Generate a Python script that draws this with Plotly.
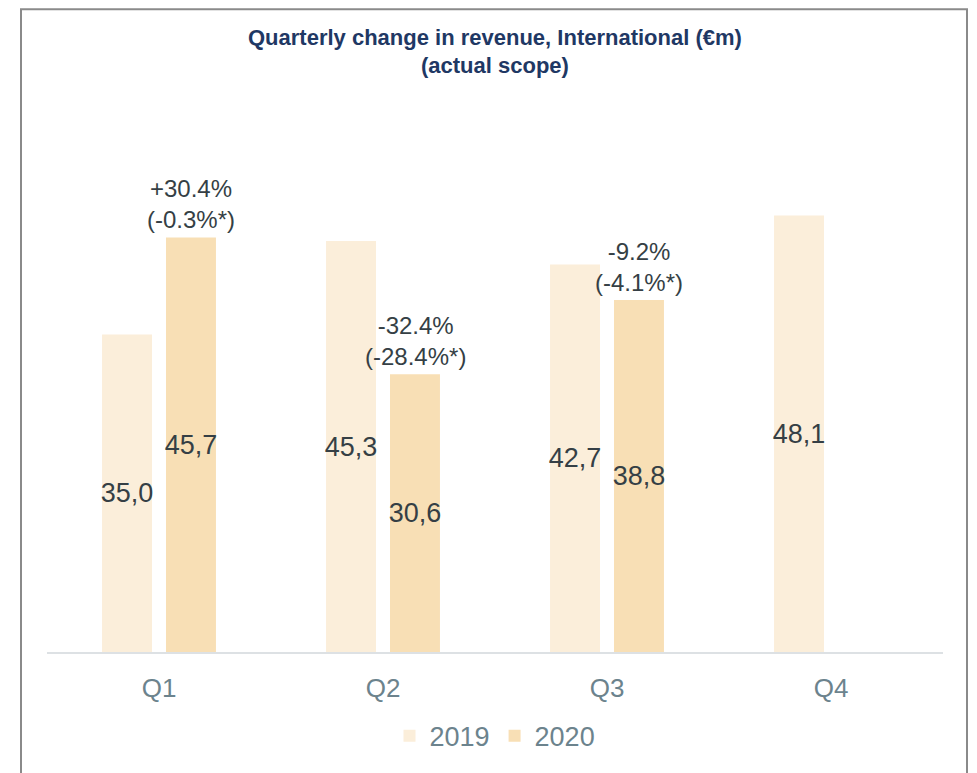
import plotly.graph_objects as go

quarters = ["Q1", "Q2", "Q3", "Q4"]
rev_2019 = [35.0, 45.3, 42.7, 48.1]
rev_2020 = [45.7, 30.6, 38.8, None]
change_reported = ["+30.4%", "-32.4%", "-9.2%", None]
change_like = ["(-0.3%*)", "(-28.4%*)", "(-4.1%*)", None]
title_lines = ["Quarterly change in revenue, International (€m)", "(actual scope)"]

FONT = "Liberation Sans, Arial, Helvetica, sans-serif"
C2019 = "#FBEEDA"
C2020 = "#F8DFB5"
TXT = "#353f45"
AX = "#6c838d"

W, H = 977, 773
ML, MR, MT, MB = 47, 34, 153, 110
PH = H - MT - MB


def fmt(v):
    return "" if v is None else f"{v:.1f}".replace(".", ",")


def py(px):
    """paper y for a pixel row measured from the top of the figure"""
    return (H - MB - px) / PH


fig = go.Figure()
for name, vals, col in [("2019", rev_2019, C2019), ("2020", rev_2020, C2020)]:
    fig.add_trace(go.Bar(
        name=name, x=quarters, y=vals, marker=dict(color=col, line=dict(width=0)),
        text=[fmt(v) for v in vals], textposition="inside", insidetextanchor="middle",
        constraintext="none", textangle=0,
        textfont=dict(family=FONT, size=27, color=TXT),
        hoverinfo="skip",
    ))

for q, v, a, b in zip(quarters, rev_2020, change_reported, change_like):
    if v is None:
        continue
    fig.add_annotation(
        x=q, y=v, xref="x", yref="y", xshift=32, yshift=2,
        text=f"{a}<br>{b}", showarrow=False, yanchor="bottom", xanchor="center",
        font=dict(family=FONT, size=24, color=TXT), align="center",
    )

for line, ypx in zip(title_lines, [35, 64]):
    fig.add_annotation(
        x=0.5, xref="paper", y=py(ypx), yref="paper",
        text=f"<b>{line}</b>", showarrow=False, xanchor="center", yanchor="middle",
        font=dict(family=FONT, size=22, color="#1f3864"),
    )

fig.add_shape(type="rect", xref="paper", yref="paper",
              x0=(21 - ML) / (W - ML - MR), x1=(967 - ML) / (W - ML - MR),
              y0=py(790), y1=py(6),
              line=dict(color="#8a8a8a", width=2), fillcolor="rgba(0,0,0,0)", layer="above")

fig.update_layout(
    width=W, height=H, autosize=False,
    margin=dict(l=ML, r=MR, t=MT, b=MB),
    paper_bgcolor="white", plot_bgcolor="white",
    barmode="group", bargap=0.429, bargroupgap=0.219,
    xaxis=dict(showline=True, linecolor="#dde1e4", linewidth=2, showgrid=False, ticks="",
               tickfont=dict(family=FONT, size=26, color=AX), ticklabelstandoff=12),
    yaxis=dict(range=[0, 55], visible=False, showgrid=False),
    legend=dict(orientation="h", x=0.5, xanchor="center", y=py(749), yanchor="middle",
                font=dict(family=FONT, size=27, color=AX), itemclick=False),
    showlegend=True,
)

fig.write_html(
    "out.html",
    config={"displayModeBar": False, "responsive": False},
    post_script="document.body.style.margin='0';document.body.style.overflow='hidden';",
)
